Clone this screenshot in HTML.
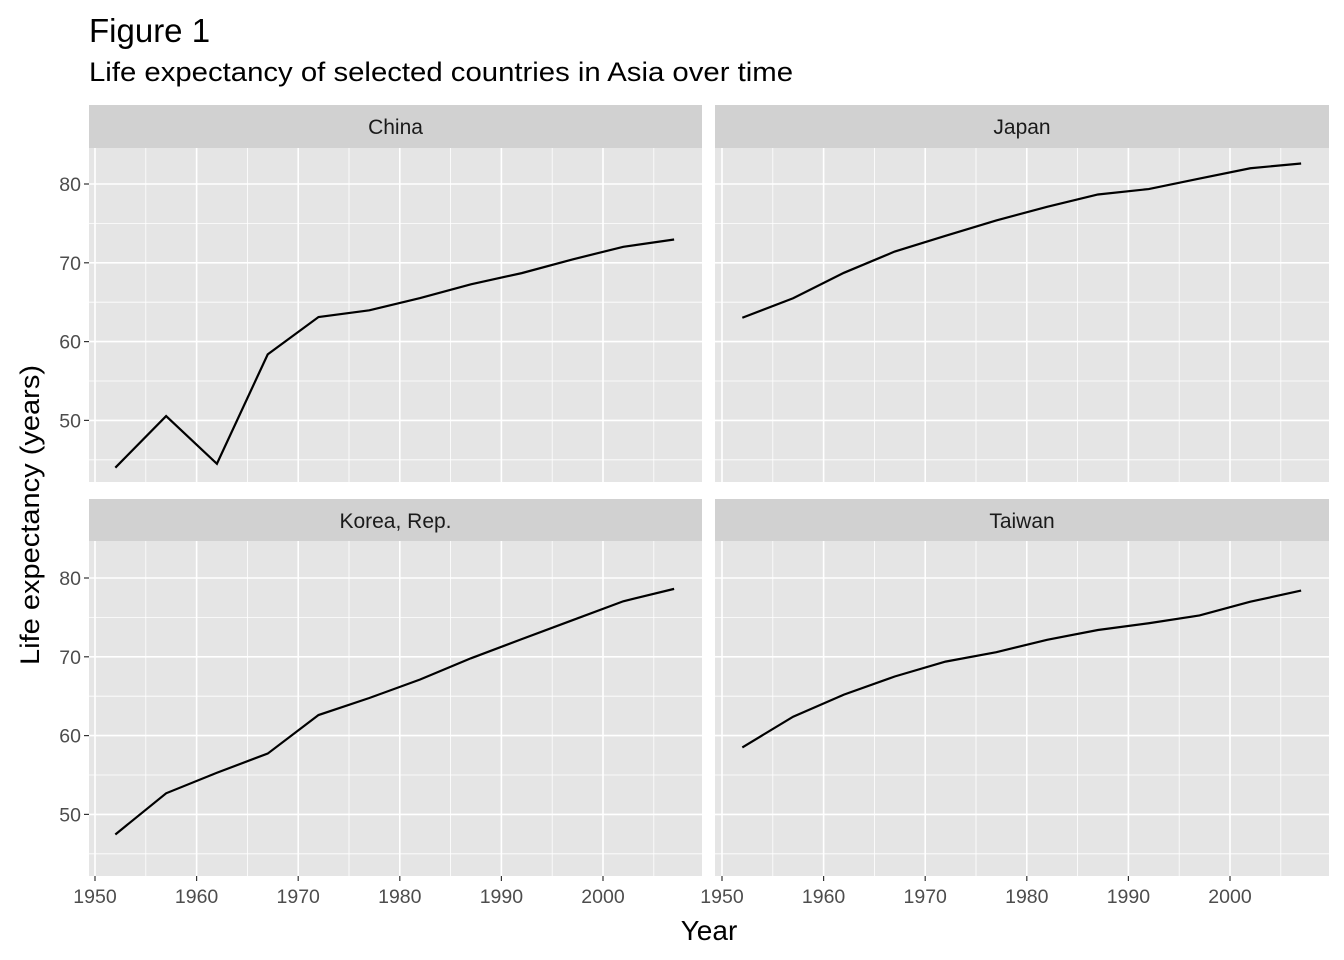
<!DOCTYPE html>
<html><head><meta charset="utf-8"><style>
html,body{margin:0;padding:0;background:#fff;}
svg{display:block;font-family:"Liberation Sans",Arial,sans-serif;}
</style></head><body>
<svg id="s" width="1344" height="960" xmlns="http://www.w3.org/2000/svg">
<rect width="1344" height="960" fill="#fff"/>
<text x="89" y="42" font-size="33" fill="#000">Figure 1</text>
<text x="89" y="81" font-size="27" fill="#000" textLength="704" lengthAdjust="spacingAndGlyphs">Life expectancy of selected countries in Asia over time</text>
<text x="709" y="940" font-size="28" fill="#000" text-anchor="middle">Year</text>
<text transform="translate(39,515) rotate(-90)" font-size="27" fill="#000" text-anchor="middle" textLength="300" lengthAdjust="spacingAndGlyphs">Life expectancy (years)</text>
</svg>
<script>
const s=document.getElementById('s');
const NS='http://www.w3.org/2000/svg';
function el(t,a,txt){const e=document.createElementNS(NS,t);for(const k in a)e.setAttribute(k,a[k]);if(txt!=null)e.textContent=txt;s.appendChild(e);return e;}
const years=[1952,1957,1962,1967,1972,1977,1982,1987,1992,1997,2002,2007];
const data={
China:[44.0,50.55,44.5,58.38,63.12,63.97,65.53,67.27,68.69,70.43,72.03,72.96],
Japan:[63.03,65.5,68.73,71.43,73.42,75.38,77.11,78.67,79.36,80.69,82.0,82.6],
"Korea, Rep.":[47.45,52.68,55.29,57.72,62.61,64.77,67.12,69.81,72.24,74.65,77.05,78.62],
Taiwan:[58.5,62.4,65.2,67.5,69.39,70.59,72.16,73.4,74.26,75.25,76.99,78.4]};
const panels=[
{n:"China",x0:89,x1:702,y0:148,y1:482,sy:105,xz:95,yz:184},
{n:"Japan",x0:715,x1:1329,y0:148,y1:482,sy:105,xz:722,yz:184},
{n:"Korea, Rep.",x0:89,x1:702,y0:541,y1:876,sy:499,xz:95,yz:578},
{n:"Taiwan",x0:715,x1:1329,y0:541,y1:876,sy:499,xz:722,yz:578}];
const px=10.16,py=7.88;
panels.forEach((p,i)=>{
 const X=y=>p.xz+(y-1950)*px, Y=v=>p.yz-(v-80)*py;
 el('rect',{x:p.x0,y:p.sy,width:p.x1-p.x0,height:p.y0-p.sy,fill:'#d1d1d1'});
 el('text',{x:(p.x0+p.x1)/2,y:p.sy+29,'font-size':21,fill:'#1a1a1a','text-anchor':'middle'},p.n);
 el('rect',{x:p.x0,y:p.y0,width:p.x1-p.x0,height:p.y1-p.y0,fill:'#e5e5e5'});
 for(let v=45;v<=85;v+=10){if(Y(v)>p.y0&&Y(v)<p.y1)el('line',{x1:p.x0,x2:p.x1,y1:Y(v),y2:Y(v),stroke:'#fff','stroke-width':0.8});}
 for(let y=1955;y<=2005;y+=10)el('line',{x1:X(y),x2:X(y),y1:p.y0,y2:p.y1,stroke:'#fff','stroke-width':0.8});
 for(let v=50;v<=80;v+=10)el('line',{x1:p.x0,x2:p.x1,y1:Y(v),y2:Y(v),stroke:'#fff','stroke-width':1.6});
 for(let y=1950;y<=2000;y+=10)el('line',{x1:X(y),x2:X(y),y1:p.y0,y2:p.y1,stroke:'#fff','stroke-width':1.6});
 el('polyline',{points:years.map((y,k)=>X(y)+','+Y(data[p.n][k])).join(' '),fill:'none',stroke:'#000','stroke-width':2.2});
 if(i%2==0){for(let v=50;v<=80;v+=10){el('line',{x1:p.x0-5,x2:p.x0,y1:Y(v),y2:Y(v),stroke:'#333','stroke-width':1.2});
  el('text',{x:p.x0-8,y:Y(v)+7,'font-size':19.5,fill:'#4d4d4d','text-anchor':'end'},v);}}
 if(i>=2){for(let y=1950;y<=2000;y+=10){el('line',{x1:X(y),x2:X(y),y1:p.y1,y2:p.y1+5,stroke:'#333','stroke-width':1.2});
  el('text',{x:X(y),y:p.y1+27,'font-size':19.5,fill:'#4d4d4d','text-anchor':'middle'},y);}}
});
</script>
</body></html>
